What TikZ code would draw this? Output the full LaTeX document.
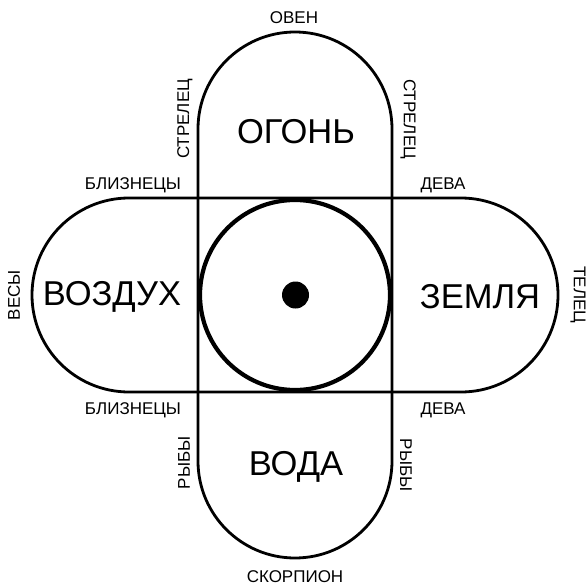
\documentclass[tikz,border=0pt]{standalone}
\usepackage{fontspec}
\setmainfont{Liberation Sans}
\begin{document}
\begin{tikzpicture}[x=1pt,y=-1pt,
  small/.style={font=\fontsize{17}{17}\selectfont, inner sep=0pt},
  big/.style={font=\fontsize{34.5}{34.5}\selectfont, inner sep=0pt},
  outline/.style={line width=2.8pt},
  ring/.style={line width=4.2pt}]
\useasboundingbox (0,0) rectangle (588,588);
% capsules
\draw[outline] (198,461) -- (198,129) arc[start angle=180, end angle=360, radius=97] -- (392,461)
  arc[start angle=0, end angle=180, radius=97] -- cycle;
\draw[outline] (461,198) -- (129,198) arc[start angle=270, end angle=90, radius=97] -- (461,392)
  arc[start angle=90, end angle=-90, radius=97] -- cycle;
% central circle and dot
\node[circle, draw, ring, minimum size=190pt, inner sep=0pt] (ring) at (295,295) {};
\node[circle, fill, minimum size=27pt, inner sep=0pt] (dot) at (295.5,295) {};
% big labels
\node[big] (fire) at (296,132) {ОГОНЬ};
\node[big] (air) at (112,297) {ВОЗДУХ};
\node[big] (earth) at (480,297) {ЗЕМЛЯ};
\node[big] (water) at (296,467) {ВОДА};
% small labels
\node[small] (aries) at (294,18) {ОВЕН};
\node[small] (scorpio) at (295,577) {СКОРПИОН};
\node[small, rotate=90] (libra) at (14,295) {ВЕСЫ};
\node[small, rotate=-90] (taurus) at (578,295) {ТЕЛЕЦ};
\node[small, rotate=90] (sagl) at (185,119) {СТРЕЛЕЦ};
\node[small, rotate=-90] (sagr) at (408,119) {СТРЕЛЕЦ};
\node[small, rotate=90] (piscl) at (184,463) {РЫБЫ};
\node[small, rotate=-90] (piscr) at (406,465) {РЫБЫ};
\node[small] (gemt) at (133,185) {БЛИЗНЕЦЫ};
\node[small] (gemb) at (133,410) {БЛИЗНЕЦЫ};
\node[small] (virt) at (443,185) {ДЕВА};
\node[small] (virb) at (443,410) {ДЕВА};
\end{tikzpicture}
\end{document}
